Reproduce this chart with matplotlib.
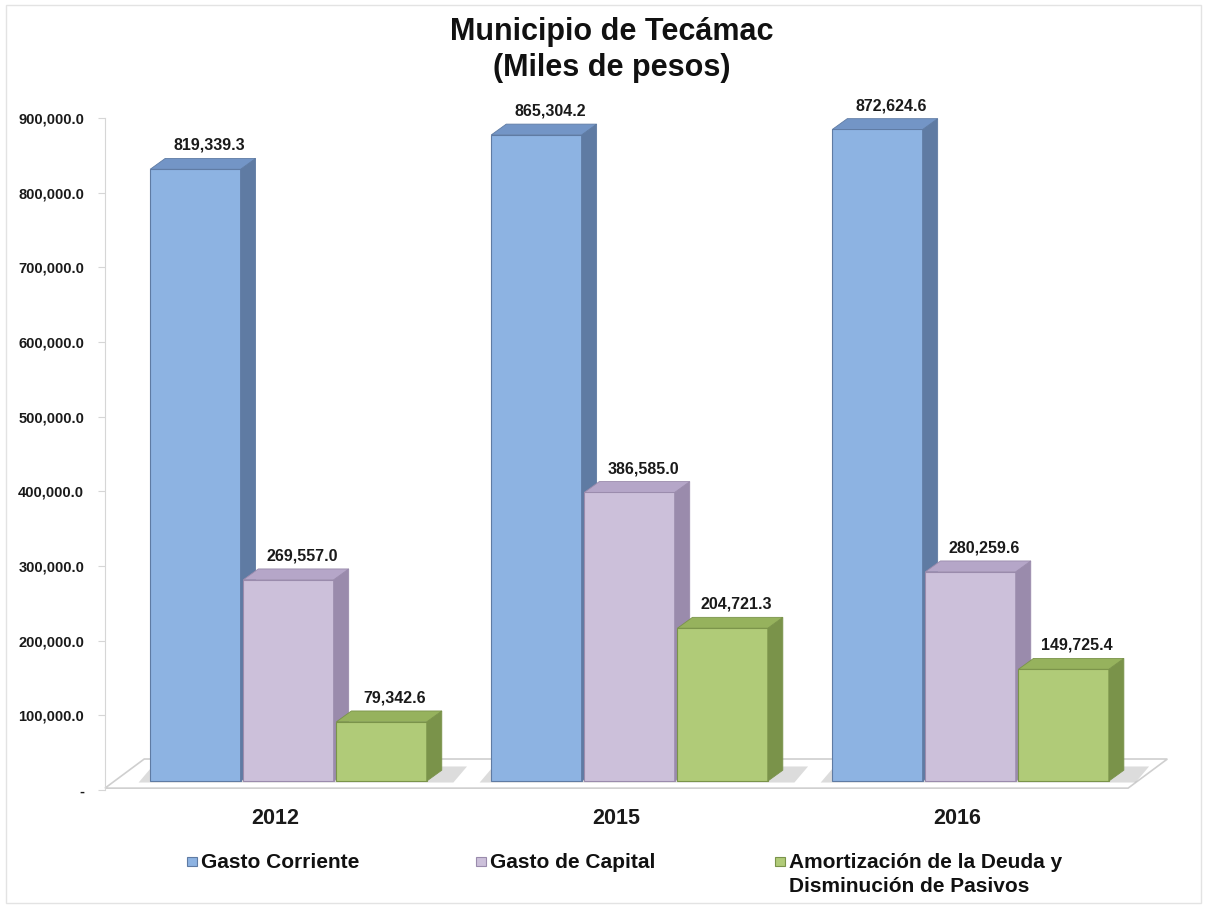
import numpy as np
import matplotlib.pyplot as plt
from matplotlib.patches import Polygon, Rectangle

plt.rcParams['font.family'] = ['Liberation Sans', 'DejaVu Sans']

years = ['2012', '2015', '2016']
series_names = ['Gasto Corriente', 'Gasto de Capital',
                'Amortización de la Deuda y\nDisminución de Pasivos']
gasto_corriente = [819339.3, 865304.2, 872624.6]
gasto_capital = [269557.0, 386585.0, 280259.6]
amortizacion = [79342.6, 204721.3, 149725.4]
yticks = np.arange(0, 900001, 100000)

# front / side / top colours of the fake 3d bars
front = ['#8DB3E2', '#CCC0DA', '#B0CB78']
side = ['#5F7BA3', '#9A8BAC', '#7A934A']
top = ['#7395C6', '#B5A6C8', '#96B25D']

W, H = 1207, 907
fig = plt.figure(figsize=(W / 100, H / 100), dpi=100)
fig.patches.append(Rectangle((6 / W, 4 / H), 1 - 12 / W, 1 - 9 / H,
                             transform=fig.transFigure, fill=False,
                             edgecolor='#E3E3E3', lw=1))
ax = fig.add_axes([105 / W, (H - 790) / H, (1167 - 105) / W, (790 - 118) / H])
ax.set_xlim(-0.538, 2.576)
ax.set_ylim(0, 900000)

x = np.arange(len(years))
step, width = 0.273, 0.265
dx, dy = 0.044, 14500   # depth of the bars
base = 12000

# floor
fdx, fdy = 0.115, 39000
floor = Polygon([(-0.538, 2500), (2.462, 2500), (2.462 + fdx, 2500 + fdy),
                 (-0.538 + fdx, 2500 + fdy)], closed=True, facecolor='white',
                edgecolor='#CFCFCF', lw=1.2, zorder=1, clip_on=False)
ax.add_patch(floor)
for xc in x:
    shadow = Polygon([(xc - 1.5 * step - 0.03, base - 2000), (xc + 1.5 * step + dx + 0.03, base - 2000),
                      (xc + 1.5 * step + dx + 0.07, base + dy + 5000),
                      (xc - 1.5 * step + 0.01, base + dy + 5000)],
                     closed=True, facecolor='#A8A8A8', alpha=0.4,
                     edgecolor='none', zorder=1.5)
    ax.add_patch(shadow)

values = [gasto_corriente, gasto_capital, amortizacion]
z = 2
for g in range(len(years)):
    for s, vals in enumerate(values):
        v = vals[g]
        xl = x[g] + (s - 1) * step - width / 2
        xr = xl + width
        ax.bar(xl, v, width=width, bottom=base, align='edge', color=front[s],
               edgecolor=side[s], lw=0.8, zorder=z)
        t = base + v
        ax.add_patch(Polygon([(xr, base), (xr + dx, base + dy), (xr + dx, t + dy), (xr, t)],
                             closed=True, facecolor=side[s], edgecolor=side[s],
                             lw=0.6, zorder=z, clip_on=False))
        ax.add_patch(Polygon([(xl, t), (xr, t), (xr + dx, t + dy), (xl + dx, t + dy)],
                             closed=True, facecolor=top[s], edgecolor=side[s],
                             lw=0.6, zorder=z, clip_on=False))
        ax.annotate(f'{v:,.1f}', (xl + width / 2 + dx * 0.9, t + dy),
                    xytext=(0, 4), textcoords='offset points', ha='center',
                    va='bottom', fontsize=11.5, fontweight='bold',
                    color='#1A1A1A', zorder=20, annotation_clip=False)
        z += 1

for sp in ['top', 'right', 'bottom']:
    ax.spines[sp].set_visible(False)
ax.spines['left'].set_color('#D6D6D6')
ax.set_yticks(yticks)
ax.set_yticklabels(['-' if v == 0 else f'{v:,.1f}' for v in yticks])
ax.tick_params(axis='y', colors='#D6D6D6', length=5, pad=10, labelcolor='#1A1A1A',
               labelsize=10.5)
for lab in ax.get_yticklabels():
    lab.set_fontweight('bold')
ax.set_xticks(x - 0.04)
ax.set_xticklabels(years, fontsize=15.5, fontweight='bold', color='#1A1A1A')
ax.tick_params(axis='x', length=0, pad=13)

fig.text(0.507, 1 - 32 / H, 'Municipio de Tecámac', ha='center', va='center',
         fontsize=22, fontweight='bold', color='#111111')
fig.text(0.507, 1 - 68 / H, '(Miles de pesos)', ha='center', va='center',
         fontsize=22, fontweight='bold', color='#111111')

# legend
leg_x = [187, 476, 775]
for s, name in enumerate(series_names):
    fig.patches.append(Rectangle((leg_x[s] / W, 1 - 866 / H), 10 / W, 9 / H,
                                 transform=fig.transFigure, facecolor=front[s],
                                 edgecolor=side[s], lw=0.8))
    fig.text((leg_x[s] + 14) / W, 1 - 853 / H, name, ha='left', va='top',
             fontsize=15, fontweight='bold', color='#111111', linespacing=1.35)

fig.savefig('out.png', dpi=100, facecolor='white')
